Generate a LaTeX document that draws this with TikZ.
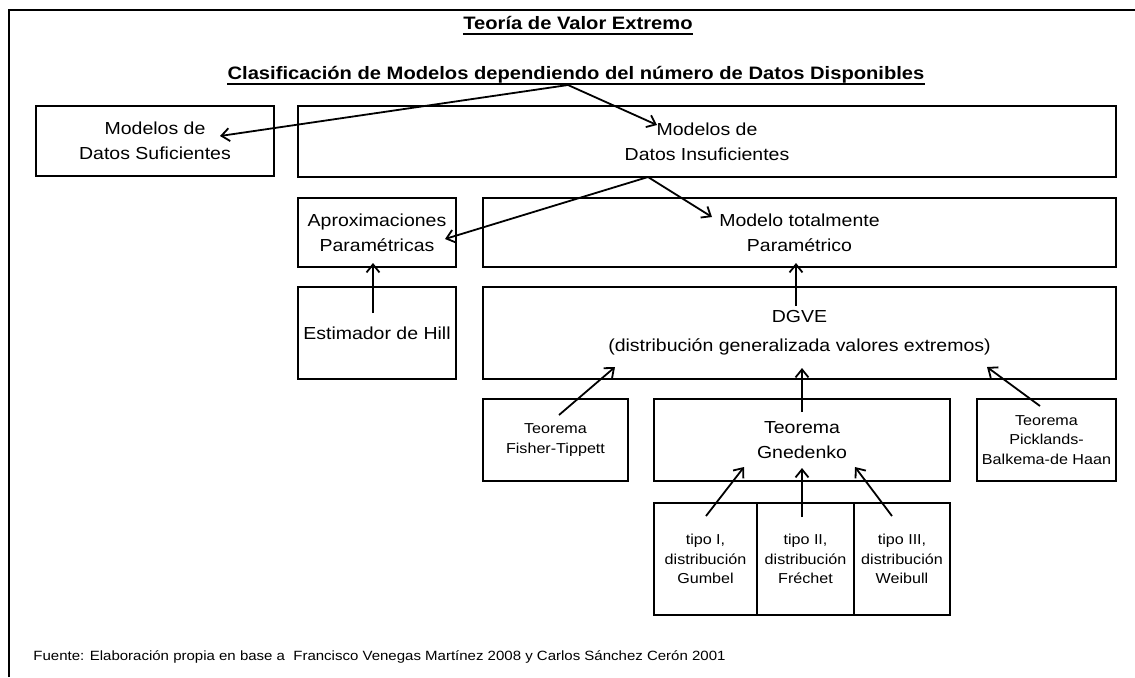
\documentclass[tikz,border=0pt]{standalone}
\usepackage{fontspec}
\setmainfont{Liberation Sans}[FakeStretch=1.12]
\usepackage{tikz}
\usetikzlibrary{arrows.meta}
\newcommand\bigtxt{\fontsize{8.7}{12.5}\selectfont}
\newcommand\smalltxt{\fontsize{7.2}{9.75}\selectfont}

\begin{document}
\begin{tikzpicture}[x=0.5pt, y=-0.5pt,
		box/.style={draw, line width=1.1pt, align=center, inner sep=0pt, font=\bigtxt},
		smallbox/.style={box, font=\smalltxt},
		heading/.style={inner sep=0pt, anchor=base, font=\bfseries\fontsize{9}{11}\selectfont},
		arr/.style={line width=0.9pt, -{Straight Barb[length=4pt,width=6.5pt]}}]
		\useasboundingbox (0, 0) rectangle (1135, 677);
		%%%%% START %%%%%
		\draw[line width=1pt] (9, 677) -- (9, 10) -- (1135, 10);
		
		\node[heading] (teoria) at (578, 29) {Teoría de Valor Extremo};
		\draw[line width=1pt] ([yshift=-2.3pt]teoria.base west) -- ([yshift=-2.3pt]teoria.base east);
		\node[heading] (clasif) at (576, 79) {Clasificación de Modelos dependiendo del número de Datos Disponibles};
		\draw[line width=1pt] ([yshift=-2.5pt]clasif.base west) -- ([yshift=-2.5pt]clasif.base east);
		
		% first level
		\node[box, minimum width=119pt, minimum height=35pt] (suf) at (155, 141) {Modelos de\\Datos Suficientes};
		\node[box, minimum width=409pt, minimum height=35.5pt] (insuf) at (707, 141.5) {Modelos de\\Datos Insuficientes};
		
		% second level
		\node[box, minimum width=79pt, minimum height=34.5pt] (aprox) at (377, 232.5) {Aproximaciones\\Paramétricas};
		\node[box, minimum width=316.5pt, minimum height=34.5pt] (modelo) at (799.5, 232.5) {Modelo totalmente\\Paramétrico};
		\node[box, minimum width=79pt, minimum height=46pt] (hill) at (377, 333) {Estimador de Hill};
		\node[box, minimum width=316.5pt, minimum height=46pt] (dgve) at (799.5, 333) {DGVE\\[2pt](distribución generalizada valores extremos)};
		
		% teoremas
		\node[smallbox, minimum width=72.5pt, minimum height=41pt] (fisher) at (555.5, 440) {Teorema\\Fisher-Tippett};
		\node[box, minimum width=148pt, minimum height=41pt] (gned) at (802, 440) {Teorema\\Gnedenko};
		\node[smallbox, minimum width=69.5pt, minimum height=41pt] (pick) at (1046.5, 440) {Teorema\\Picklands-\\Balkema-de Haan};
		
		% tipos
		\node[smallbox, minimum width=51.5pt, minimum height=56pt] (tipoI) at (705.5, 559) {tipo I,\\distribución\\Gumbel};
		\node[smallbox, minimum width=48.5pt, minimum height=56pt] (tipoII) at (805.5, 559) {tipo II,\\distribución\\Fréchet};
		\node[smallbox, minimum width=48pt, minimum height=56pt] (tipoIII) at (902, 559) {tipo III,\\distribución\\Weibull};
		
		\node[anchor=base west, inner sep=0pt, font=\fontsize{6.7}{8}\selectfont] (fuente) at (33, 660) {Fuente: Elaboración propia en base a \ Francisco Venegas Martínez 2008 y Carlos Sánchez Cerón 2001};
		
		% arrow ends
		\coordinate (clasif-o) at (568, 85);
		\coordinate (suf-in) at (220, 136);
		\coordinate (insuf-in) at (657, 125);
		\coordinate (insuf-o) at (648, 177);
		\coordinate (aprox-in) at (445, 239);
		\coordinate (modelo-in) at (712, 217);
		\coordinate (hill-o) at (373, 313);
		\coordinate (aprox-b) at (373, 263);
		\coordinate (dgve-o) at (796, 306);
		\coordinate (modelo-b) at (796, 263);
		\coordinate (fisher-o) at (559, 415);
		\coordinate (dgve-l) at (615, 367);
		\coordinate (gned-o) at (802, 412);
		\coordinate (dgve-m) at (802, 368);
		\coordinate (pick-o) at (1040, 406);
		\coordinate (dgve-r) at (987, 367);
		\coordinate (tipoI-o) at (706, 516);
		\coordinate (gned-l) at (744, 467);
		\coordinate (tipoII-o) at (802, 517);
		\coordinate (gned-m) at (802, 468);
		\coordinate (tipoIII-o) at (892, 516);
		\coordinate (gned-r) at (855, 467);
		
		\draw[arr] (clasif-o) -- (suf-in);
		\draw[arr] (clasif-o) -- (insuf-in);
		\draw[arr] (insuf-o) -- (aprox-in);
		\draw[arr] (insuf-o) -- (modelo-in);
		\draw[arr] (hill-o) -- (aprox-b);
		\draw[arr] (dgve-o) -- (modelo-b);
		\draw[arr] (fisher-o) -- (dgve-l);
		\draw[arr] (gned-o) -- (dgve-m);
		\draw[arr] (pick-o) -- (dgve-r);
		\draw[arr] (tipoI-o) -- (gned-l);
		\draw[arr] (tipoII-o) -- (gned-m);
		\draw[arr] (tipoIII-o) -- (gned-r);
		%%%%% END %%%%%
	\end{tikzpicture}
\end{document}
